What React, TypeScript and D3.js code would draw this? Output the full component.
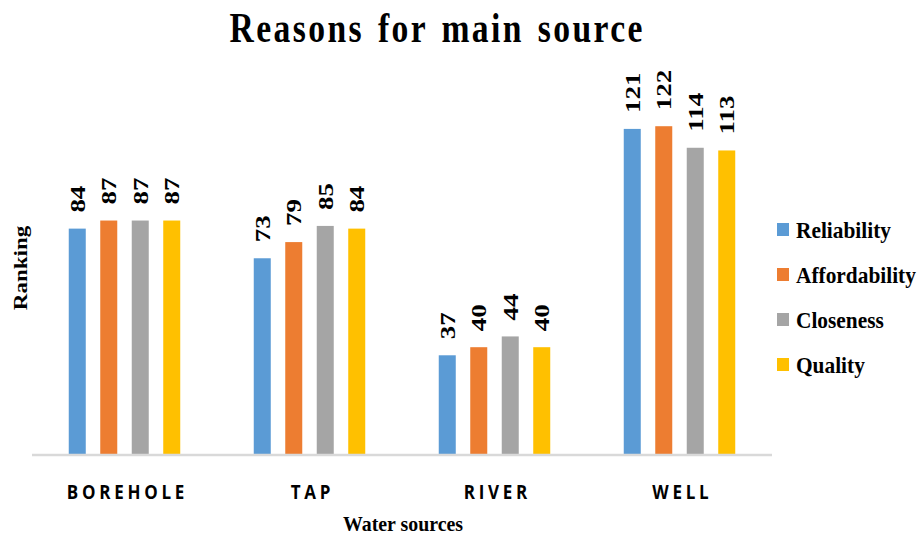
import React from "react";
import * as d3 from "d3";

const categories = ["BOREHOLE", "TAP", "RIVER", "WELL"];
const seriesNames = ["Reliability", "Affordability", "Closeness", "Quality"];
const reliability = [84, 73, 37, 121];
const affordability = [87, 79, 40, 122];
const closeness = [87, 85, 44, 114];
const quality = [87, 84, 40, 113];
const colors = ["#5B9BD5", "#ED7D31", "#A5A5A5", "#FFC000"];

const seriesValues = [reliability, affordability, closeness, quality];

const W = 918;
const H = 535;
const serif = "'Liberation Serif', 'Times New Roman', serif";

export default function App() {
  const x0 = d3.scaleBand<string>().domain(categories).range([32, 772]).padding(0);
  const x1 = d3
    .scaleBand<string>()
    .domain(seriesNames)
    .range([0, x0.bandwidth()])
    .paddingInner(0.46)
    .paddingOuter(1.167);
  const y = d3.scaleLinear().domain([0, 140]).range([455, 77.7]);

  return (
    <div style={{ position: "absolute", left: 0, top: 0 }}>
      <svg width={W} height={H} style={{ display: "block", background: "#fff" }}>
        <g transform="translate(436,42) scale(0.8,1)">
          <text
            x={1.5}
            y={0}
            textAnchor="middle"
            fontFamily={serif}
            fontWeight="bold"
            fontSize={42}
            letterSpacing={3}
            wordSpacing={4}
            fill="#000"
          >
            Reasons for main source
          </text>
        </g>

        {categories.map((c, ci) =>
          seriesNames.map((s, si) => {
            const v = seriesValues[si][ci];
            const bx = (x0(c) ?? 0) + (x1(s) ?? 0);
            const bw = x1.bandwidth();
            const cx = bx + bw / 2;
            return (
              <g key={c + s}>
                <rect x={bx} y={y(v)} width={bw} height={y(0) - y(v)} fill={colors[si]} />
                <text
                  transform={`translate(${cx + 7.5},${y(v) - 16}) rotate(-90) scale(1,0.77)`}
                  fontFamily={serif}
                  fontWeight="bold"
                  fontSize={27}
                  fill="#000"
                >
                  {v}
                </text>
              </g>
            );
          })
        )}

        <line x1={32} x2={772} y1={455} y2={455} stroke="#D9D9D9" strokeWidth={2.5} />

        {categories.map((c) => (
          <g
            key={c}
            transform={`translate(${(x0(c) ?? 0) + x0.bandwidth() / 2 + 1},499) scale(0.85,1)`}
          >
            <text
              x={2.2}
              y={0}
              textAnchor="middle"
              fontFamily="'Open Sans', 'Liberation Sans', sans-serif"
              fontWeight="bold"
              fontSize={20}
              letterSpacing={4.4}
              fill="#000"
            >
              {c}
            </text>
          </g>
        ))}

        <text
          x={403}
          y={531}
          textAnchor="middle"
          fontFamily={serif}
          fontWeight="bold"
          fontSize={22}
          textLength={120}
          lengthAdjust="spacingAndGlyphs"
          fill="#000"
        >
          Water sources
        </text>

        <text
          transform={`translate(27,268) rotate(-90) scale(1,0.85)`}
          textAnchor="middle"
          fontFamily={serif}
          fontWeight="bold"
          fontSize={23}
          fill="#000"
        >
          Ranking
        </text>

        {seriesNames.map((s, i) => {
          const cy = 229.5 + i * 45;
          return (
            <g key={s}>
              <rect x={777} y={cy - 6.5} width={12} height={13} fill={colors[i]} />
              <text
                x={796}
                y={cy + 9}
                fontFamily={serif}
                fontWeight="bold"
                fontSize={23}
                transform={`translate(796,0) scale(0.93,1) translate(-796,0)`}
                fill="#000"
              >
                {s}
              </text>
            </g>
          );
        })}
      </svg>
    </div>
  );
}
